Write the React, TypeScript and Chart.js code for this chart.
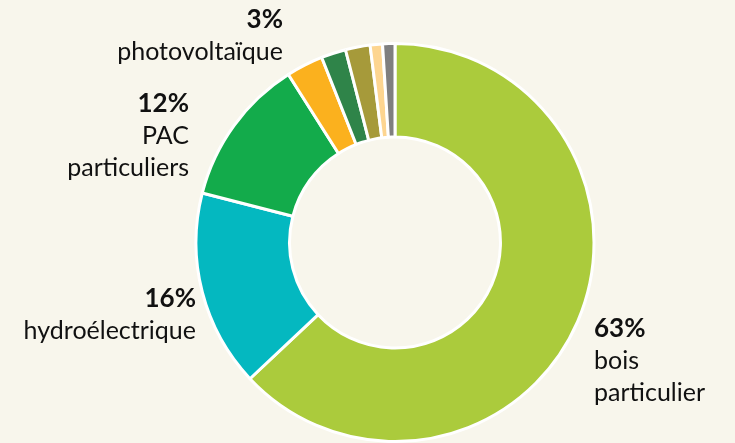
import React, { useEffect, useRef } from "react";
import { Chart, registerables } from "chart.js";

Chart.register(...registerables);

const categories = [
  "bois particulier",
  "hydroélectrique",
  "PAC particuliers",
  "photovoltaïque",
  "bois collectif",
  "biogaz",
  "solaire thermique",
  "autres",
];
const values = [63, 16, 12, 3, 2, 2, 1, 1];
const colors = ["#ABCB3C", "#04B8C0", "#13AB4B", "#FBB11E", "#2F8449", "#A69A3A", "#FDD590", "#7F7F7F"];
const percentLabels = ["63%", "16%", "12%", "3%"];
const nameLines = [["bois", "particulier"], ["hydroélectrique"], ["PAC", "particuliers"], ["photovoltaïque"]];

const BG = "#F8F6EC";
const FONT = "Lato";

// label anchors relative to donut center, in px (x, baseline y of first line), align
const labelLayout: { dx: number; dy: number; align: CanvasTextAlign }[] = [
  { dx: 199, dy: 94, align: "left" },
  { dx: -199, dy: 64, align: "right" },
  { dx: -206, dy: -131, align: "right" },
  { dx: -112, dy: -215, align: "right" },
];

const labelPlugin = {
  id: "donutLabels",
  afterDatasetsDraw(chart: any) {
    const meta = chart.getDatasetMeta(0);
    const arc = meta.data[0];
    if (!arc) return;
    const cx = arc.x;
    const cy = arc.y;
    const ctx = chart.ctx;
    ctx.save();
    ctx.fillStyle = "#111111";
    ctx.textBaseline = "alphabetic";
    const lh = 32;
    labelLayout.forEach((l, i) => {
      ctx.textAlign = l.align;
      const x = cx + l.dx;
      let y = cy + l.dy;
      ctx.font = `bold 26px ${FONT}`;
      ctx.fillText(percentLabels[i], x, y);
      ctx.font = `25px ${FONT}`;
      nameLines[i].forEach((line) => {
        y += lh;
        ctx.fillText(line, x, y);
      });
    });
    ctx.restore();
  },
};

export default function App() {
  const ref = useRef<HTMLCanvasElement | null>(null);
  useEffect(() => {
    if (!ref.current) return;
    const chart = new Chart(ref.current, {
      type: "doughnut",
      data: {
        labels: categories,
        datasets: [
          {
            data: values,
            backgroundColor: colors,
            borderColor: "#FFFFFF",
            borderWidth: 3,
          },
        ],
      },
      options: {
        animation: false,
        responsive: false,
        cutout: "53%",
        layout: { padding: { top: 42, bottom: 0, left: 55, right: 0 } },
        plugins: {
          legend: { display: false },
          tooltip: { enabled: false },
        },
      },
      plugins: [labelPlugin],
    });
    return () => chart.destroy();
  }, []);
  return (
    <div style={{ position: "fixed", left: 0, top: 0, width: 735, height: 443, background: BG }}>
      <canvas ref={ref} width={735} height={443} style={{ display: "block" }} />
    </div>
  );
}
